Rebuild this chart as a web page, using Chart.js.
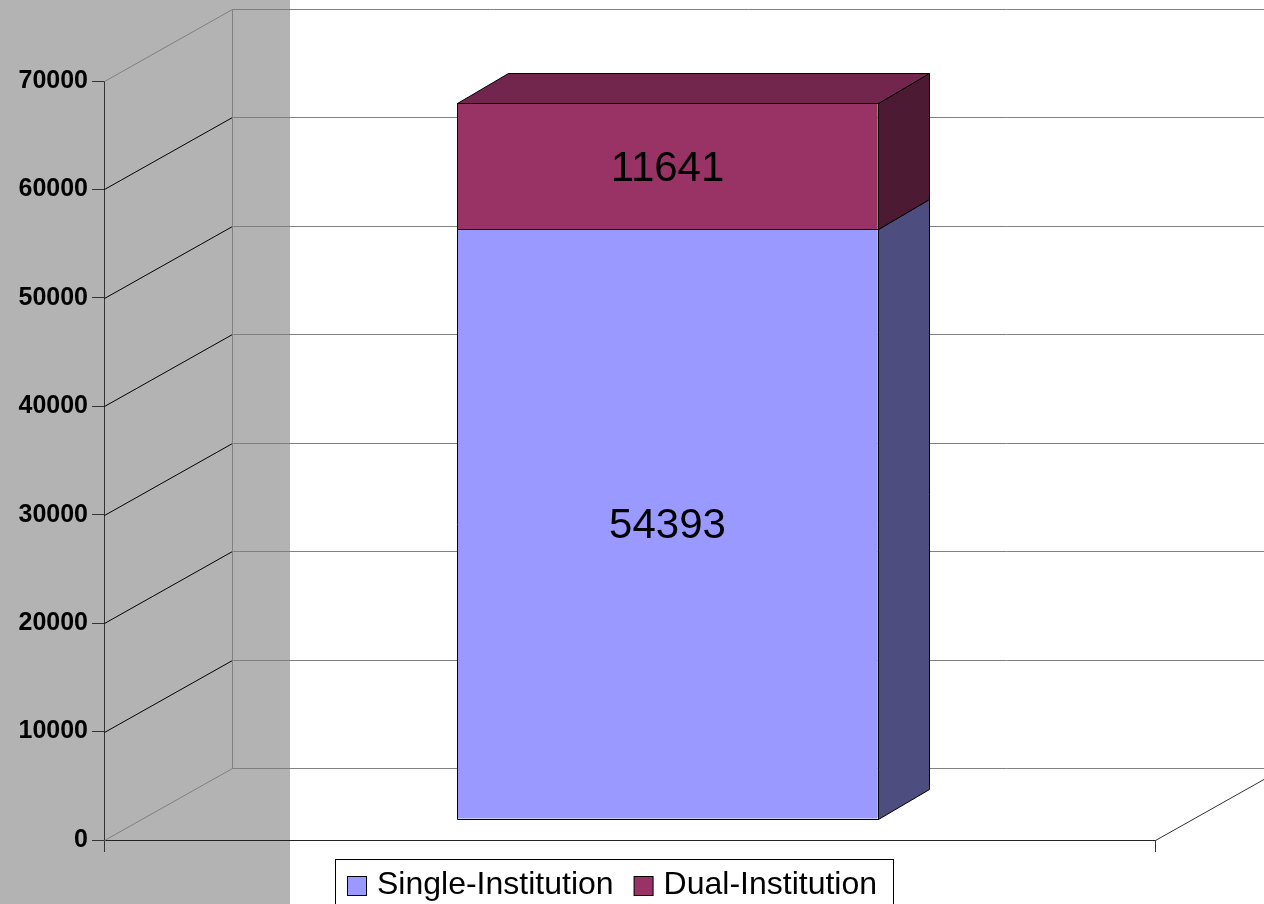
<!DOCTYPE html>
<html>
<head>
<meta charset="utf-8">
<script src="https://cdn.jsdelivr.net/npm/chart.js"></script>
<style>
  body{
    margin: 0;
    background: #fff;
  }
  .taille{
    position: relative;
    width: 1264px;
    height: 904px;
  }
</style>
</head>
<body>
<div class="taille">
  <canvas id="myChart"></canvas>
</div>

<script>
// values
const categories = [''];
const seriesNames = ['Single-Institution', 'Dual-Institution'];
const singleValues = [54393];
const dualValues = [11641];
const yMax = 70000;
const yStep = 10000;

// colours: front, side, top
const frontColors = ['#9999FF', '#993366'];
const sideColors = ['#4D4D80', '#4D1A33'];
const topColors = ['#7373BF', '#73264D'];

const barShift = { x: 38, y: -21 };   // bar plane sits a bit behind the axis plane
const barDepth = { x: 51, y: -30 };
const wallDepth = { x: 128, y: -72 };

function px(v) {
  return Math.round(v) + 0.5;
}

function line(ctx, x1, y1, x2, y2, color) {
  ctx.beginPath();
  ctx.strokeStyle = color;
  ctx.lineWidth = 1;
  ctx.moveTo(px(x1), px(y1));
  ctx.lineTo(px(x2), px(y2));
  ctx.stroke();
}

function poly(ctx, pts, fill) {
  ctx.beginPath();
  ctx.moveTo(px(pts[0][0]), px(pts[0][1]));
  for (let i = 1; i < pts.length; i++) ctx.lineTo(px(pts[i][0]), px(pts[i][1]));
  ctx.closePath();
  if (fill) {
    ctx.fillStyle = fill;
    ctx.fill();
  }
  ctx.strokeStyle = '#000';
  ctx.lineWidth = 1;
  ctx.stroke();
}

const cube = {
  id: 'cube',
  beforeDraw(chart) {
    const ctx = chart.ctx;
    ctx.save();
    ctx.fillStyle = '#fff';
    ctx.fillRect(0, 0, chart.width, chart.height);
    ctx.fillStyle = '#B3B3B3';
    ctx.fillRect(0, 0, 290, chart.height);
    ctx.restore();
  },
  beforeDatasetsDraw(chart) {
    const ctx = chart.ctx;
    const ys = chart.scales.y;
    const area = chart.chartArea;
    const bx = area.left + wallDepth.x;
    ctx.save();
    // back wall and left wall
    ys.ticks.forEach(t => {
      const yf = ys.getPixelForValue(t.value);
      const yb = yf + wallDepth.y;
      line(ctx, bx, yb, chart.width, yb, '#808080');
      const edge = (t.value === 0 || t.value === yMax);
      line(ctx, area.left, yf, bx, yb, edge ? '#808080' : '#000');
    });
    line(ctx, bx, ys.getPixelForValue(yMax) + wallDepth.y, bx, ys.getPixelForValue(0) + wallDepth.y, '#808080');
    // floor right edge
    line(ctx, area.right, area.bottom, area.right + wallDepth.x, area.bottom + wallDepth.y, '#333');
    ctx.restore();

    ctx.save();
    ctx.translate(barShift.x, barShift.y);
  },
  afterDatasetsDraw(chart) {
    const ctx = chart.ctx;
    const last = chart.data.datasets.length - 1;
    chart.data.datasets.forEach((ds, i) => {
      chart.getDatasetMeta(i).data.forEach(el => {
        const p = el.getProps(['x', 'y', 'base', 'width'], true);
        const l = p.x - p.width / 2;
        const r = p.x + p.width / 2;
        // crisp outline of the front face
        poly(ctx, [[l, p.base], [l, p.y], [r, p.y], [r, p.base]], null);
        poly(ctx, [[r, p.base], [r, p.y], [r + barDepth.x, p.y + barDepth.y], [r + barDepth.x, p.base + barDepth.y]], sideColors[i]);
        if (i === last) {
          poly(ctx, [[l, p.y], [l + barDepth.x, p.y + barDepth.y], [r + barDepth.x, p.y + barDepth.y], [r, p.y]], topColors[i]);
        }
      });
    });
    // value labels
    ctx.fillStyle = '#000';
    ctx.font = '42px "Liberation Sans", Arial, sans-serif';
    ctx.textAlign = 'center';
    ctx.textBaseline = 'middle';
    chart.data.datasets.forEach((ds, i) => {
      chart.getDatasetMeta(i).data.forEach((el, j) => {
        const p = el.getProps(['x', 'y', 'base'], true);
        ctx.fillText(String(ds.data[j]), p.x, (p.y + p.base) / 2 + 3);
      });
    });
    ctx.restore();
  },
  afterDraw(chart) {
    // legend box
    const ctx = chart.ctx;
    ctx.save();
    ctx.fillStyle = '#fff';
    ctx.fillRect(335.5, 859.5, 558, 60);
    ctx.strokeStyle = '#000';
    ctx.lineWidth = 1;
    ctx.strokeRect(335.5, 859.5, 558, 60);
    ctx.font = '32px "Liberation Sans", Arial, sans-serif';
    ctx.textBaseline = 'alphabetic';
    ctx.textAlign = 'left';
    let x = 347;
    seriesNames.forEach((name, i) => {
      ctx.fillStyle = frontColors[i];
      ctx.fillRect(x + 0.5, 876.5, 19, 19);
      ctx.strokeRect(x + 0.5, 876.5, 19, 19);
      ctx.fillStyle = '#000';
      ctx.fillText(name, x + 30, 894);
      x += 30 + ctx.measureText(name).width + 20;
    });
    ctx.restore();
  }
};

const dataChart = {
  labels: categories,
  datasets: [
    {
      label: seriesNames[0],
      data: singleValues,
      backgroundColor: frontColors[0],
      borderWidth: 0,
      barPercentage: 0.4,
      categoryPercentage: 1.0,
      clip: false,
    },
    {
      label: seriesNames[1],
      data: dualValues,
      backgroundColor: frontColors[1],
      borderWidth: 0,
      barPercentage: 0.4,
      categoryPercentage: 1.0,
      clip: false,
    },
  ]
};

const configChart = {
  type: 'bar',
  data: dataChart,
  plugins: [cube],
  options: {
    responsive: true,
    maintainAspectRatio: false,
    animation: false,
    layout: {
      padding: { left: 0, top: 81, right: 109, bottom: 0 }
    },
    plugins: {
      legend: { display: false },
      tooltip: { enabled: false },
    },
    scales: {
      x: {
        stacked: true,
        offset: true,
        afterFit(scale) { scale.height = 64; },
        grid: {
          offset: true,
          drawOnChartArea: false,
          tickLength: 12,
          color: '#333',
        },
        border: { display: true, color: '#222' },
        ticks: { display: false },
      },
      y: {
        stacked: true,
        min: 0,
        max: yMax,
        afterFit(scale) { scale.width = 104; },
        grid: {
          drawOnChartArea: false,
          tickLength: 12,
          color: '#333',
        },
        border: { display: true, color: '#333' },
        ticks: {
          stepSize: yStep,
          padding: 4,
          color: '#000',
          font: { family: '"Liberation Sans", Arial, sans-serif', size: 25, weight: 'bold' },
          callback: (v) => String(v),
        },
      }
    }
  }
};

const myChart = new Chart(document.getElementById('myChart'), configChart);
</script>
</body>
</html>
